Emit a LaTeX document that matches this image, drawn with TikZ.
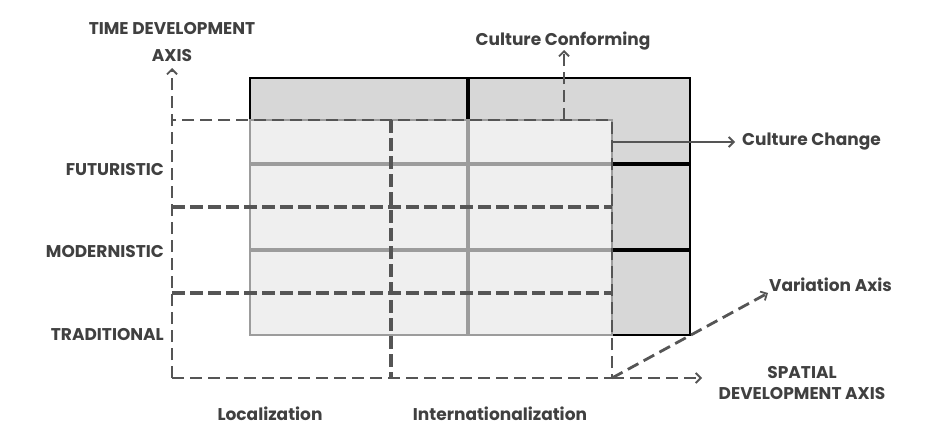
\documentclass[tikz,border=0pt]{standalone}
\usepackage{fontspec}
\setmainfont{Poppins}
\usetikzlibrary{positioning,arrows.meta}

\definecolor{axisgray}{HTML}{555555}
\definecolor{txtgray}{HTML}{404040}
\definecolor{darkcell}{HTML}{D7D7D7}
\definecolor{lightcell}{HTML}{EFEFEF}
\definecolor{gridgray}{HTML}{9C9C9C}

\begin{document}
\begin{tikzpicture}[x=1pt, y=-1pt, >={Straight Barb[length=5pt,width=10pt,line width=1.8pt]},
	lbl/.style={text=txtgray, inner sep=0pt, font=\fontsize{17}{27}\selectfont\bfseries},
	dashline/.style={draw=axisgray, line width=2.8pt, dash pattern=on 12pt off 6pt},
	dbldash/.style={draw=axisgray, line width=2.2pt, dash pattern=on 13pt off 5pt},
	darkbox/.style={fill=darkcell, draw=black, line width=2.6pt},
	lightbox/.style={fill=lightcell, draw=gridgray, line width=2.4pt}]
	
	\useasboundingbox (0,0) rectangle (928,439);
	
	\def\xa{172}  % time axis
	\def\xl{250}  % left of cells
	\def\xm{391}  % localization / internationalization
	\def\xc{468}  % middle of cells
	\def\xr{612}  % right of cells
	\def\xe{690}  % right of dark column
	\def\yb{378}  % spatial axis
	
	% dark frame (culture change column)
	\draw[darkbox] (\xl,78) rectangle (\xc,120);
	\draw[darkbox] (\xc,78) -- (\xe,78) -- (\xe,163) -- (\xr,163) -- (\xr,120) -- (\xc,120) -- cycle;
	\draw[darkbox] (\xr,165) rectangle (\xe,249);
	\draw[darkbox] (\xr,251) rectangle (\xe,335);
	\draw[black, line width=4pt] (\xc,78) -- (\xc,120);
	
	% light cells
	\foreach \ya/\yz in {120/163, 165/249, 251/335}{
		\draw[lightbox] (\xl,\ya) rectangle (\xc,\yz);
		\draw[lightbox] (\xc,\ya) rectangle (\xr,\yz);
	}
	\draw[gridgray, line width=4pt] (\xc,120) -- (\xc,335);
	
	% axes and dashed grid
	\coordinate (o) at (\xa,\yb);
	\coordinate (tend) at (\xa,68);
	\coordinate (m0) at (\xm,120);
	\coordinate (mb) at (\xm,\yb);
	\coordinate (r0) at (\xr,120);
	\coordinate (rb) at (\xr,\yb);
	\coordinate (l0) at (\xa,120);
	\coordinate (cc) at (564,120);
	\coordinate (ccend) at (564,50);
	\coordinate (chg) at (\xr,142);
	\coordinate (chgend) at (735,142);
	\coordinate (send) at (702,\yb);
	\coordinate (vend) at (768,293);
	
	\draw[dashline, ->] (o) -- (tend);
	\draw[dashline] (o) -- (rb) -- (r0) -- (l0);
	\foreach \yy in {207,293}{
		\draw[dbldash] (\xa,\yy-1.3) -- (\xr,\yy-1.3);
		\draw[dbldash] (\xa,\yy+1.3) -- (\xr,\yy+1.3);
	}
	\draw[dbldash] ([xshift=-1.3pt]m0) -- ([xshift=-1.3pt]mb);
	\draw[dbldash] ([xshift=1.3pt]m0) -- ([xshift=1.3pt]mb);
	\draw[dashline, ->] (cc) -- (ccend);
	\draw[dashline, ->] (rb) -- (send);
	\draw[dashline, ->] (rb) -- (vend);
	\draw[axisgray, line width=2.4pt, ->] (chg) -- (chgend);
	
	% labels
	\node[lbl, align=center] (time) at (\xa,42) {TIME DEVELOPMENT\\AXIS};
	\node[lbl] (conf) at (563,41) {Culture Conforming};
	\node[lbl, anchor=west] (change) at (742,142) {Culture Change};
	\node[lbl, anchor=east] (fut) at (164,170) {FUTURISTIC};
	\node[lbl, anchor=east] (mod) at (164,252) {MODERNISTIC};
	\node[lbl, anchor=east] (trad) at (164,335) {TRADITIONAL};
	\node[lbl, anchor=west] (var) at (769,285) {Variation Axis};
	\node[lbl, align=center, font=\fontsize{17}{21}\selectfont\bfseries] (spat) at (802,383) {SPATIAL\\DEVELOPMENT AXIS};
	\node[lbl] (loc) at (270,414) {Localization};
	\node[lbl] (intl) at (500,414) {Internationalization};
	
\end{tikzpicture}
\end{document}
